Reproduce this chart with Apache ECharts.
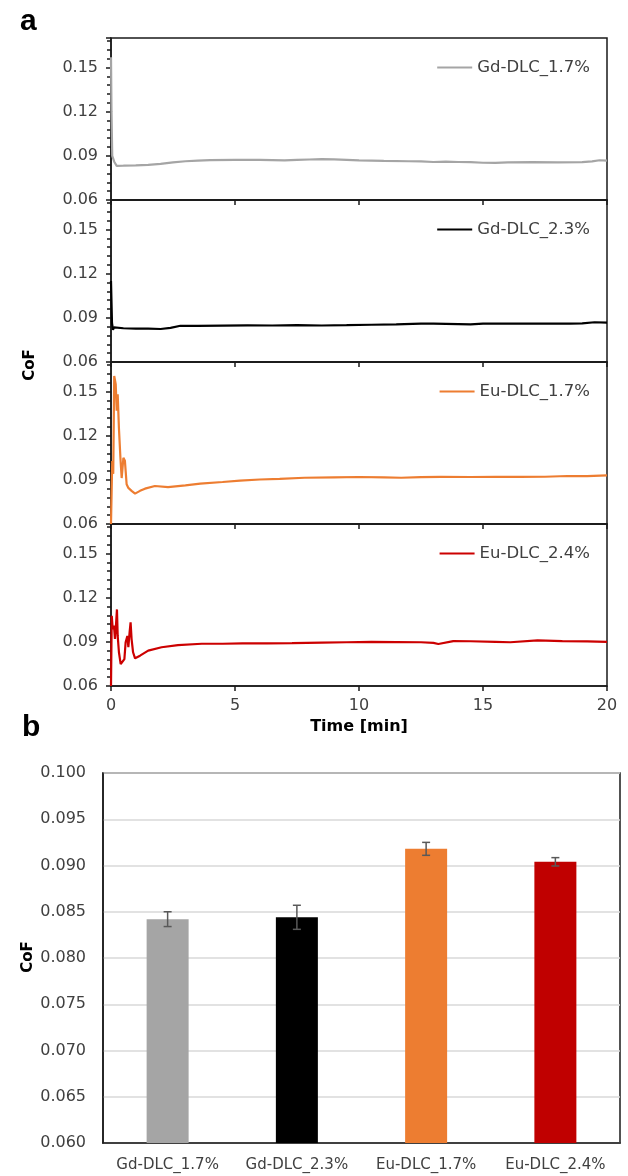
<!DOCTYPE html>
<html><head><meta charset="utf-8">
<script src="https://cdn.jsdelivr.net/npm/echarts@6/dist/echarts.min.js"></script>
<style>html,body{margin:0;padding:0;background:#fff}#c{width:628px;height:1176px}</style>
</head><body><div id="c"></div>
<script>
// ---------- data ----------
const seriesNames = ['Gd-DLC_1.7%', 'Gd-DLC_2.3%', 'Eu-DLC_1.7%', 'Eu-DLC_2.4%'];
const seriesColors = ['#a5a5a5', '#000000', '#ed7d31', '#cc0000'];

const gd17_t = [0, 0.02, 0.05, 0.13, 0.23, 0.5, 1.0, 1.5, 2.0, 2.5, 3.0, 3.5, 4.0, 5.0, 6.0, 6.5, 7.0, 7.5, 8.0, 8.5, 9.0, 9.5, 10.0, 11.0, 12.0, 12.5, 13.0, 13.5, 14.0, 14.5, 15.0, 15.5, 16.0, 17.0, 18.0, 19.0, 19.4, 19.7, 20];
const gd17_v = [0.157, 0.12, 0.0899, 0.086, 0.0832, 0.0833, 0.0835, 0.0838, 0.0845, 0.0855, 0.0863, 0.0868, 0.0871, 0.0872, 0.0873, 0.0871, 0.0869, 0.0872, 0.0875, 0.0878, 0.0876, 0.0873, 0.0869, 0.0865, 0.0863, 0.0862, 0.0858, 0.0860, 0.0858, 0.0857, 0.0853, 0.0852, 0.0855, 0.0857, 0.0856, 0.0857, 0.0862, 0.0870, 0.0868];

const gd23_t = [0, 0.04, 0.08, 0.12, 0.2, 0.5, 1.0, 1.5, 2.0, 2.4, 2.8, 3.5, 4.5, 5.5, 6.5, 7.5, 8.5, 9.5, 10.5, 11.5, 12.5, 13.0, 13.5, 14.5, 15.0, 15.5, 16.5, 17.5, 18.5, 19.0, 19.5, 20];
const gd23_v = [0.115, 0.0865, 0.0818, 0.0835, 0.0828, 0.0829, 0.0827, 0.0826, 0.0824, 0.0832, 0.0846, 0.0845, 0.0847, 0.0849, 0.0848, 0.0850, 0.0848, 0.0850, 0.0853, 0.0856, 0.0860, 0.0861, 0.0859, 0.0855, 0.0860, 0.0861, 0.0860, 0.0860, 0.0861, 0.0862, 0.0870, 0.0868];

const eu17_t = [0, 0.05, 0.09, 0.13, 0.19, 0.23, 0.27, 0.32, 0.38, 0.43, 0.5, 0.56, 0.63, 0.7, 0.83, 0.97, 1.17, 1.37, 1.77, 2.3, 3.0, 3.6, 4.5, 5.2, 6.0, 6.8, 7.8, 9.0, 10.0, 11.0, 11.7, 12.5, 13.3, 14.5, 15.5, 16.5, 17.5, 18.4, 19.2, 20];
const eu17_v = [0.06, 0.1028, 0.094, 0.1605, 0.155, 0.137, 0.148, 0.125, 0.1048, 0.0912, 0.105, 0.103, 0.087, 0.0845, 0.0825, 0.0806, 0.0825, 0.084, 0.0858, 0.0851, 0.0862, 0.0874, 0.0885, 0.0895, 0.0902, 0.0907, 0.0914, 0.0917, 0.0919, 0.0916, 0.0914, 0.0918, 0.092, 0.0919, 0.0921, 0.092, 0.0921, 0.0926, 0.0925, 0.093];

const eu24_t = [0, 0.03, 0.07, 0.12, 0.16, 0.2, 0.24, 0.27, 0.32, 0.39, 0.46, 0.54, 0.59, 0.66, 0.7, 0.75, 0.79, 0.83, 0.89, 0.97, 1.17, 1.5, 2.04, 2.7, 3.66, 4.5, 5.3, 6.3, 7.3, 8.5, 9.5, 10.5, 11.5, 12.5, 13.0, 13.2, 13.8, 14.5, 15.5, 16.1, 17.2, 18.2, 19.2, 20];
const eu24_v = [0.06, 0.1077, 0.0987, 0.101, 0.092, 0.101, 0.112, 0.094, 0.0829, 0.0749, 0.0745, 0.0783, 0.0897, 0.094, 0.0863, 0.0964, 0.1032, 0.0919, 0.0829, 0.0788, 0.0806, 0.084, 0.0863, 0.0878, 0.0887, 0.0887, 0.0889, 0.0890, 0.0891, 0.0895, 0.0897, 0.0899, 0.0898, 0.0897, 0.0893, 0.0885, 0.0905, 0.0904, 0.0900, 0.0897, 0.0910, 0.0905, 0.0903, 0.0900];

const timeTicks = [0, 5, 10, 15, 20];
const cofTicksTop = [0.06, 0.09, 0.12, 0.15];

const barCategories = ['Gd-DLC_1.7%', 'Gd-DLC_2.3%', 'Eu-DLC_1.7%', 'Eu-DLC_2.4%'];
const barMeans = [0.0842, 0.0844, 0.0918, 0.0904];
const barErrors = [0.0008, 0.0013, 0.0007, 0.00045];
const barColors = ['#a5a5a5', '#000000', '#ed7d31', '#c00000'];

// ---------- chart ----------
const FONT = "'DejaVu Sans', Verdana, sans-serif";
const LABEL_COLOR = '#404040';
const lineTimes = [gd17_t, gd23_t, eu17_t, eu24_t];
const lineVals = [gd17_v, gd23_v, eu17_v, eu24_v];
const panelTops = [38, 200, 362, 524];
const panelH = 162;

const grids = panelTops.map(t => ({
  left: 111, width: 496, top: t, height: panelH,
  show: true, borderColor: '#1a1a1a', borderWidth: 1.5, backgroundColor: 'transparent'
}));
grids.push({left: 103, right: 8, top: 773, height: 370, show: true, borderColor: '#1a1a1a', borderWidth: 1.5});

const xAxes = panelTops.map((t, i) => ({
  type: 'value', gridIndex: i, min: timeTicks[0], max: timeTicks[timeTicks.length - 1], interval: 5,
  axisLine: {show: true, onZero: false, lineStyle: {color: '#1a1a1a', width: 1.5}},
  axisTick: {show: true, inside: false, length: 5, lineStyle: {color: '#1a1a1a', width: 1.5}},
  axisLabel: {show: i === 3, fontSize: 16, color: LABEL_COLOR, fontFamily: FONT, margin: 12},
  splitLine: {show: false}
}));
xAxes.push({
  type: 'category', gridIndex: 4, data: barCategories,
  axisLine: {show: true, lineStyle: {color: '#1a1a1a', width: 1.5}},
  axisTick: {show: false},
  axisLabel: {interval: 0, fontSize: 15, color: LABEL_COLOR, fontFamily: FONT, margin: 15},
  splitLine: {show: false}
});

const yAxes = panelTops.map((t, i) => ({
  type: 'value', gridIndex: i, min: cofTicksTop[0], max: 0.17, interval: 0.03,
  axisLine: {show: true, onZero: false, lineStyle: {color: '#1a1a1a', width: 1.5}},
  axisTick: {show: true, inside: false, length: 5, lineStyle: {color: '#1a1a1a', width: 1.5}},
  minorTick: {show: true, splitNumber: 5, length: 4, lineStyle: {color: '#1a1a1a', width: 1.5}},
  axisLabel: {fontSize: 16, color: LABEL_COLOR, fontFamily: FONT, margin: 13, showMaxLabel: false,
    formatter: v => cofTicksTop.some(c => Math.abs(c - v) < 1e-9) ? v.toFixed(2) : ''},
  splitLine: {show: false}
}));
yAxes.push({
  type: 'value', gridIndex: 4, min: 0.06, max: 0.1, interval: 0.005,
  axisLine: {show: true, lineStyle: {color: '#1a1a1a', width: 1.5}},
  axisTick: {show: false},
  axisLabel: {fontSize: 16, color: LABEL_COLOR, fontFamily: FONT, margin: 17, formatter: v => v.toFixed(3)},
  splitLine: {show: true, lineStyle: {color: '#d9d9d9', width: 1.5}}
});

const series = seriesNames.map((n, i) => ({
  name: n, type: 'line', xAxisIndex: i, yAxisIndex: i,
  data: lineTimes[i].map((t, k) => [t, lineVals[i][k]]),
  symbol: 'none', showSymbol: false, smooth: false,
  lineStyle: {color: seriesColors[i], width: 2.2},
  itemStyle: {color: seriesColors[i]},
  animation: false, z: 3
}));
series.push({
  type: 'bar', xAxisIndex: 4, yAxisIndex: 4, barWidth: 42,
  data: barMeans.map((m, i) => ({value: m, itemStyle: {color: barColors[i]}})),
  animation: false
});
series.push({
  type: 'custom', xAxisIndex: 4, yAxisIndex: 4,
  data: barMeans.map((m, i) => [i, m, barErrors[i]]),
  encode: {x: 0, y: 1},
  renderItem: (params, api) => {
    const x = api.value(0), m = api.value(1), e = api.value(2);
    const hi = api.coord([x, m + e]), lo = api.coord([x, m - e]);
    const cw = 4;
    const st = {stroke: '#595959', lineWidth: 1.5};
    return {type: 'group', children: [
      {type: 'line', shape: {x1: hi[0], y1: hi[1], x2: lo[0], y2: lo[1]}, style: st},
      {type: 'line', shape: {x1: hi[0] - cw, y1: hi[1], x2: hi[0] + cw, y2: hi[1]}, style: st},
      {type: 'line', shape: {x1: lo[0] - cw, y1: lo[1], x2: lo[0] + cw, y2: lo[1]}, style: st}
    ]};
  },
  z: 5, animation: false
});

const legendCenters = [69, 231, 393, 555];
const legends = seriesNames.map((n, i) => ({
  data: [n], right: 33, top: legendCenters[i] - 15, orient: 'horizontal',
  icon: 'rect', itemWidth: 35, itemHeight: 2, selectedMode: false,
  textStyle: {fontSize: 16.5, color: LABEL_COLOR, fontFamily: FONT}
}));

const option = {
  backgroundColor: '#ffffff',
  animation: false,
  grid: grids, xAxis: xAxes, yAxis: yAxes, series: series, legend: legends,
  graphic: [
    {type: 'text', left: 20, top: 7, style: {text: 'a', font: "bold 30px 'Liberation Sans', Arial, sans-serif", fill: '#000'}},
    {type: 'text', left: 22, top: 713, style: {text: 'b', font: "bold 30px 'Liberation Sans', Arial, sans-serif", fill: '#000'}},
    {type: 'text', x: 30, y: 365, rotation: Math.PI / 2, style: {text: 'CoF', font: "bold 15px 'DejaVu Sans', Verdana, sans-serif", fill: '#000', align: 'center', verticalAlign: 'middle'}},
    {type: 'text', x: 28, y: 957, rotation: Math.PI / 2, style: {text: 'CoF', font: "bold 15px 'DejaVu Sans', Verdana, sans-serif", fill: '#000', align: 'center', verticalAlign: 'middle'}},
    {type: 'text', x: 359, y: 727, style: {text: 'Time [min]', font: "bold 16px 'DejaVu Sans', Verdana, sans-serif", fill: '#000', align: 'center', verticalAlign: 'middle'}}
  ]
};
const chart = echarts.init(document.getElementById('c'), null, {renderer: 'canvas'});
chart.setOption(option);
</script></body></html>
